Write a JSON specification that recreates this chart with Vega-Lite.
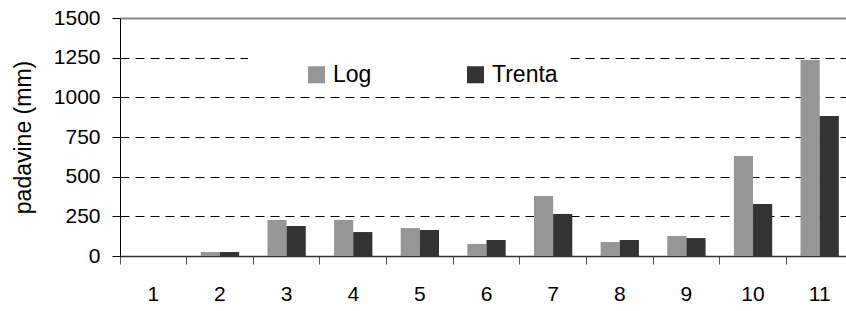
{
  "$schema": "https://vega.github.io/schema/vega-lite/v6.json",
  "autosize": "none",
  "padding": {"left": 120, "top": 18, "right": 0, "bottom": 55},
  "width": 726,
  "height": 238,
  "config": {
    "view": {"stroke": null},
    "font": "Liberation Sans"
  },
  "data": {
    "values": [
      {"k": "1", "s": "Log", "v": 0}, {"k": "1", "s": "Trenta", "v": 0},
      {"k": "2", "s": "Log", "v": 25}, {"k": "2", "s": "Trenta", "v": 25},
      {"k": "3", "s": "Log", "v": 227}, {"k": "3", "s": "Trenta", "v": 189},
      {"k": "4", "s": "Log", "v": 227}, {"k": "4", "s": "Trenta", "v": 151},
      {"k": "5", "s": "Log", "v": 176}, {"k": "5", "s": "Trenta", "v": 164},
      {"k": "6", "s": "Log", "v": 76}, {"k": "6", "s": "Trenta", "v": 101},
      {"k": "7", "s": "Log", "v": 378}, {"k": "7", "s": "Trenta", "v": 265},
      {"k": "8", "s": "Log", "v": 88}, {"k": "8", "s": "Trenta", "v": 101},
      {"k": "9", "s": "Log", "v": 126}, {"k": "9", "s": "Trenta", "v": 113},
      {"k": "10", "s": "Log", "v": 630}, {"k": "10", "s": "Trenta", "v": 328},
      {"k": "11", "s": "Log", "v": 1235}, {"k": "11", "s": "Trenta", "v": 882}
    ]
  },
  "mark": {"type": "bar"},
  "encoding": {
    "x": {
      "field": "k", "type": "ordinal", "sort": null,
      "scale": {"paddingInner": 0, "paddingOuter": 0, "range": [0, 733]},
      "axis": {
        "title": null, "labelAngle": 0, "bandPosition": 0,
        "labelFont": "Liberation Sans", "labelFontSize": 21, "labelColor": "#000",
        "labelPadding": 19, "tickSize": 8, "tickColor": "#555", "domainColor": "#333",
        "domainWidth": 1.5, "grid": false
      }
    },
    "xOffset": {
      "field": "s", "type": "nominal",
      "scale": {"paddingInner": 0, "paddingOuter": 0.74}
    },
    "y": {
      "field": "v", "type": "quantitative",
      "scale": {"domain": [0, 1500], "nice": false},
      "axis": {
        "title": "padavine (mm)", "titleFont": "Liberation Sans", "titleFontSize": 23,
        "titleFontWeight": "normal", "titleColor": "#000", "titlePadding": 18,
        "values": [0, 250, 500, 750, 1000, 1250, 1500], "format": "d",
        "labelFont": "Liberation Sans", "labelFontSize": 21, "labelColor": "#000",
        "labelPadding": 12, "tickSize": 8, "tickColor": "#000", "domainColor": "#000",
        "grid": true,
        "gridColor": {"condition": {"test": "datum.value >= 1500", "value": "#888"}, "value": "#000"},
        "gridDash": {"condition": {"test": "datum.value >= 1500", "value": []}, "value": [9, 6]},
        "gridWidth": {"condition": {"test": "datum.value >= 1500", "value": 2}, "value": 1}
      }
    },
    "color": {
      "field": "s", "type": "nominal",
      "scale": {"domain": ["Log", "Trenta"], "range": ["#969696", "#333333"]},
      "legend": {
        "title": null, "orient": "none", "direction": "horizontal",
        "legendX": 128, "legendY": 38,
        "symbolType": "square", "symbolSize": 289, "symbolStrokeWidth": 0,
        "symbolOpacity": 1, "symbolOffset": 50,
        "labelFont": "Liberation Sans", "labelFontSize": 23, "labelColor": "#000",
        "labelOffset": 5, "columnPadding": 42,
        "labelExpr": "datum.label == 'Trenta' ? datum.label + '\u2003\u2003' : datum.label",
        "fillColor": "#fff", "padding": 7
      }
    }
  }
}
